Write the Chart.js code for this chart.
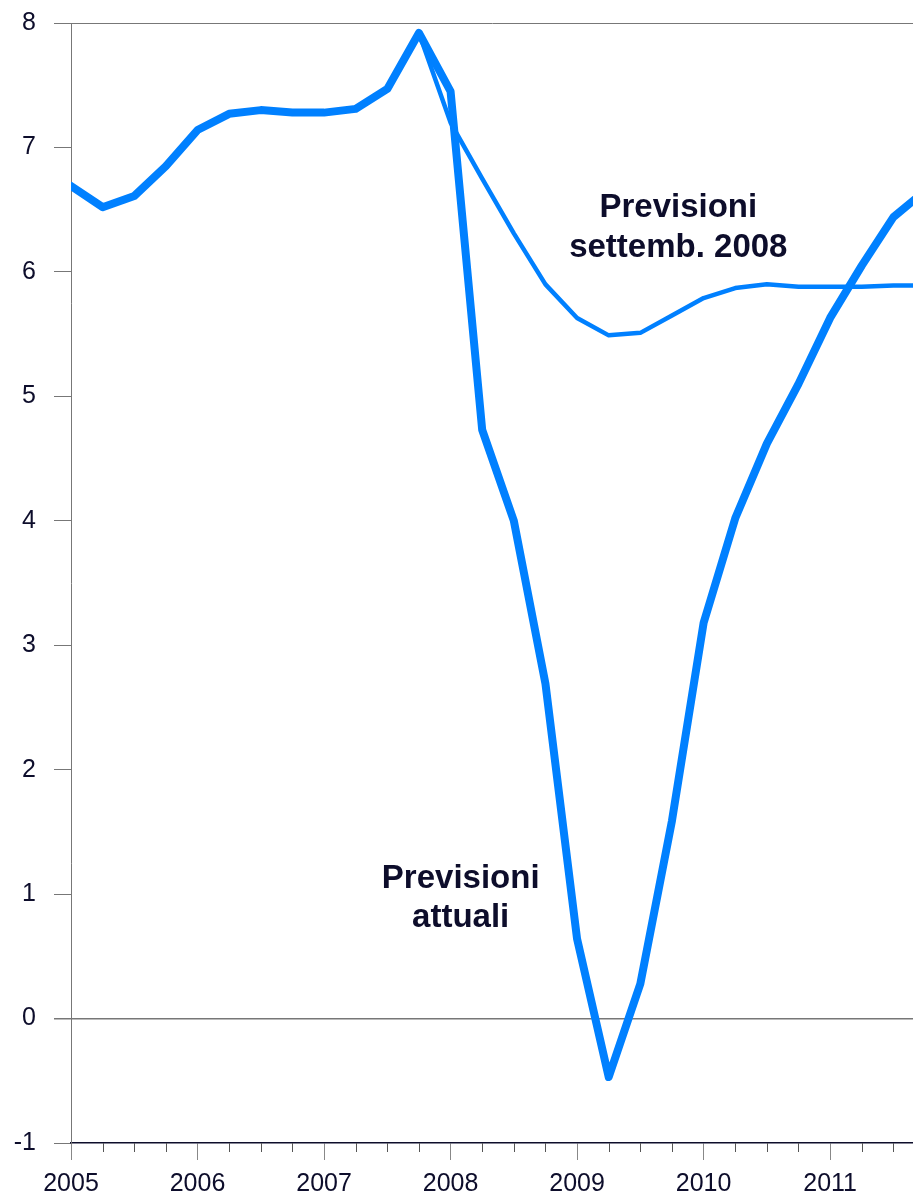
<!DOCTYPE html>
<html>
<head>
<meta charset="utf-8">
<script src="https://cdn.jsdelivr.net/npm/chart.js@4"></script>
<style>
  html, body { margin: 0; padding: 0; background: #fff; }
  #wrap { width: 913px; height: 1198px; }
</style>
</head>
<body>
<div id="wrap"><canvas id="chart"></canvas></div>
<script>
// quarters from 2005Q1, x in years
const quarters = [
  2005.00, 2005.25, 2005.50, 2005.75, 2006.00, 2006.25, 2006.50, 2006.75,
  2007.00, 2007.25, 2007.50, 2007.75, 2008.00, 2008.25, 2008.50, 2008.75,
  2009.00, 2009.25, 2009.50, 2009.75, 2010.00, 2010.25, 2010.50, 2010.75,
  2011.00, 2011.25, 2011.50, 2011.75
];
const previsioniAttuali = [
  6.69, 6.52, 6.61, 6.85, 7.14, 7.27, 7.30, 7.28,
  7.28, 7.31, 7.47, 7.92, 7.45, 4.73, 4.00, 2.69,
  0.64, -0.47, 0.28, 1.59, 3.18, 4.02, 4.62, 5.10,
  5.63, 6.05, 6.44, 6.65
];
const previsioniSett2008 = [
  6.69, 6.52, 6.61, 6.85, 7.14, 7.27, 7.30, 7.28,
  7.28, 7.31, 7.47, 7.92, 7.20, 6.75, 6.31, 5.90,
  5.63, 5.49, 5.51, 5.65, 5.79, 5.87, 5.90, 5.88,
  5.88, 5.88, 5.89, 5.89
];
const yTicks = [-1, 0, 1, 2, 3, 4, 5, 6, 7, 8];
const xYears = [2005, 2006, 2007, 2008, 2009, 2010, 2011];

const navy = '#0d0d2b';
const blue = '#0080ff';

function toPoints(vals) {
  return vals.map((v, i) => ({ x: quarters[i], y: v }));
}

// short quarter ticks under the x axis
const minorTicks = {
  id: 'minorTicks',
  afterDraw(chart) {
    const ctx = chart.ctx;
    const xs = chart.scales.x;
    const bottom = chart.chartArea.bottom;
    ctx.save();
    ctx.strokeStyle = '#555';
    ctx.lineWidth = 1;
    quarters.forEach(q => {
      if (Number.isInteger(q)) return;
      const px = Math.round(xs.getPixelForValue(q)) + 0.5;
      if (px > chart.chartArea.right) return;
      ctx.beginPath();
      ctx.moveTo(px, bottom);
      ctx.lineTo(px, bottom + 9);
      ctx.stroke();
    });
    ctx.restore();
  }
};

// the two text labels
const labels = {
  id: 'labels',
  afterDatasetsDraw(chart) {
    const ctx = chart.ctx;
    const xs = chart.scales.x, ys = chart.scales.y;
    ctx.save();
    ctx.fillStyle = navy;
    ctx.font = 'bold 33px "Liberation Sans", Arial, sans-serif';
    ctx.textAlign = 'center';
    ctx.textBaseline = 'alphabetic';
    let x = xs.getPixelForValue(2009.80), y = ys.getPixelForValue(6.44);
    ctx.fillText('Previsioni', x, y);
    ctx.fillText('settemb. 2008', x, y + 40);
    x = xs.getPixelForValue(2008.08); y = ys.getPixelForValue(1.046);
    ctx.fillText('Previsioni', x, y);
    ctx.fillText('attuali', x, y + 39);
    ctx.restore();
  }
};

new Chart(document.getElementById('chart'), {
  type: 'line',
  data: {
    datasets: [
      {
        label: 'Previsioni settemb. 2008',
        data: toPoints(previsioniSett2008),
        borderColor: blue,
        borderWidth: 4.5,
        pointRadius: 0,
        borderJoinStyle: 'round',
        borderCapStyle: 'round',
        tension: 0,
        order: 2
      },
      {
        label: 'Previsioni attuali',
        data: toPoints(previsioniAttuali),
        borderColor: blue,
        borderWidth: 8,
        pointRadius: 0,
        borderJoinStyle: 'round',
        borderCapStyle: 'round',
        tension: 0,
        order: 1
      }
    ]
  },
  options: {
    responsive: true,
    maintainAspectRatio: false,
    animation: false,
    layout: { autoPadding: false, padding: { top: 23, right: 0, left: 0, bottom: 0 } },
    plugins: {
      legend: { display: false },
      tooltip: { enabled: false }
    },
    scales: {
      x: {
        type: 'linear',
        min: 2005,
        max: 2011.655,
        afterFit: s => { s.height = 55; s.paddingLeft = 0; s.paddingRight = 0; },
        afterBuildTicks: s => { s.ticks = xYears.map(v => ({ value: v })); },
        ticks: {
          color: navy,
          font: { family: '"Liberation Sans", Arial, sans-serif', size: 25 },
          padding: 9,
          maxRotation: 0,
          autoSkip: false,
          callback: v => String(v)
        },
        grid: {
          drawOnChartArea: false,
          tickLength: 17,
          tickColor: '#888',
          tickWidth: 1
        },
        border: { color: navy, width: 1.5 }
      },
      y: {
        min: -1,
        max: 8,
        afterFit: s => { s.width = 71; s.paddingTop = 0; s.paddingBottom = 0; },
        afterBuildTicks: s => { s.ticks = yTicks.map(v => ({ value: v })); },
        ticks: {
          color: navy,
          font: { family: '"Liberation Sans", Arial, sans-serif', size: 25 },
          padding: 18
        },
        grid: {
          tickLength: 17,
          color: c => (c.tick && (c.tick.value === 0 || c.tick.value === 8)) ? '#777' : 'rgba(0,0,0,0)',
          lineWidth: c => (c.tick && c.tick.value === 0) ? 1.5 : 1,
          tickColor: '#777'
        },
        border: { color: '#777', width: 1 }
      }
    }
  },
  plugins: [minorTicks, labels]
});
</script>
</body>
</html>
